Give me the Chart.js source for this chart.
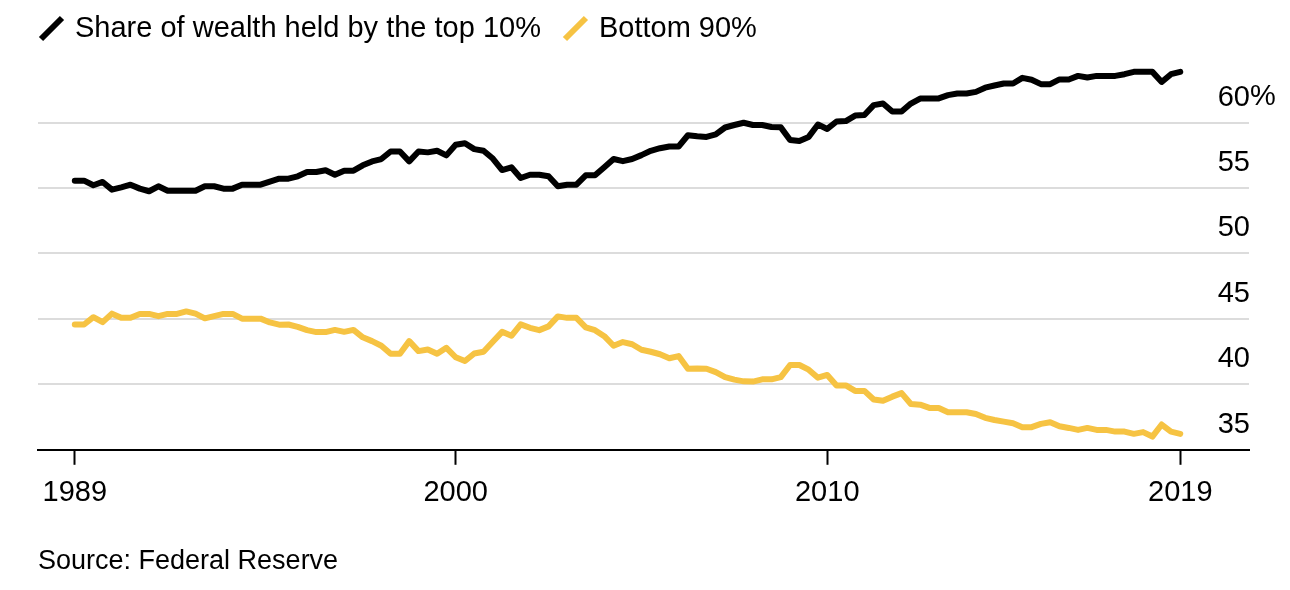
<!DOCTYPE html>
<html>
<head>
<meta charset="utf-8">
<script src="https://cdn.jsdelivr.net/npm/chart.js@4.4.1/dist/chart.umd.min.js"></script>
<style>
  html, body { margin: 0; padding: 0; background: #fff; }
  #wrap { width: 1290px; height: 590px; }
</style>
</head>
<body>
<div id="wrap"><canvas id="wealthChart"></canvas></div>
<script>
  // Quarterly share of household wealth, 1989 Q3 to 2019 Q2
  const top10 = [
    55.56, 55.56, 55.21, 55.46, 54.87, 55.05, 55.25, 54.95, 54.75, 55.13,
    54.79, 54.79, 54.79, 54.79, 55.13, 55.13, 54.95, 54.95, 55.25, 55.25,
    55.25, 55.49, 55.71, 55.71, 55.89, 56.22, 56.22, 56.35, 56.01, 56.32,
    56.32, 56.73, 57.03, 57.21, 57.79, 57.79, 57.03, 57.79, 57.72, 57.84,
    57.49, 58.30, 58.42, 57.97, 57.84, 57.25, 56.37, 56.58, 55.76, 56.01,
    56.01, 55.89, 55.13, 55.25, 55.25, 55.97, 55.97, 56.58, 57.21, 57.05,
    57.21, 57.51, 57.84, 58.04, 58.17, 58.17, 59.03, 58.95, 58.90, 59.09,
    59.62, 59.81, 59.98, 59.81, 59.81, 59.66, 59.63, 58.67, 58.59, 58.90,
    59.85, 59.51, 60.08, 60.11, 60.53, 60.57, 61.33, 61.45, 60.84, 60.84,
    61.45, 61.83, 61.84, 61.84, 62.09, 62.22, 62.22, 62.34, 62.66, 62.83,
    62.98, 62.98, 63.41, 63.27, 62.93, 62.93, 63.29, 63.29, 63.56, 63.44,
    63.56, 63.56, 63.56, 63.69, 63.87, 63.87, 63.87, 63.10, 63.69, 63.87
  ];
  const bottom90 = [
    44.57, 44.57, 45.13, 44.75, 45.40, 45.08, 45.08, 45.38, 45.38, 45.21,
    45.38, 45.38, 45.57, 45.40, 45.04, 45.21, 45.38, 45.38, 45.02, 45.02,
    45.02, 44.73, 44.56, 44.57, 44.39, 44.14, 43.99, 43.99, 44.16, 44.01,
    44.16, 43.59, 43.30, 42.95, 42.34, 42.34, 43.30, 42.54, 42.66, 42.34,
    42.79, 42.07, 41.78, 42.36, 42.49, 43.25, 44.01, 43.71, 44.58, 44.32,
    44.14, 44.43, 45.19, 45.08, 45.08, 44.35, 44.14, 43.68, 42.95, 43.23,
    43.06, 42.64, 42.49, 42.30, 41.99, 42.16, 41.19, 41.21, 41.19, 40.93,
    40.55, 40.36, 40.23, 40.21, 40.38, 40.38, 40.55, 41.48, 41.48, 41.12,
    40.51, 40.72, 39.92, 39.92, 39.50, 39.50, 38.84, 38.74, 39.06, 39.33,
    38.50, 38.45, 38.20, 38.20, 37.87, 37.87, 37.87, 37.74, 37.44, 37.28,
    37.15, 37.03, 36.73, 36.73, 36.98, 37.11, 36.80, 36.67, 36.52, 36.67,
    36.52, 36.52, 36.39, 36.39, 36.22, 36.35, 36.01, 36.93, 36.39, 36.22
  ];
  const seriesNames = ['Share of wealth held by the top 10%', 'Bottom 90%'];

  // x position of each quarter = its end date as a decimal year
  const quarterEnds = [];
  for (let i = 0; i < top10.length; i++) quarterEnds.push(1989.75 + i * 0.25);

  const xTickValues = [1989.75, 2000, 2010, 2019.5];
  const xTickLabels = ['1989', '2000', '2010', '2019'];
  const yTickValues = [35, 40, 45, 50, 55, 60];

  const FONT = 'Liberation Sans, Arial, sans-serif';
  const BLACK = '#000000';
  const YELLOW = '#f6c343';

  // legend drawn by hand: slash icon + label, at the top left
  const slashLegend = {
    id: 'slashLegend',
    afterDraw(chart) {
      const ctx = chart.ctx;
      ctx.save();
      ctx.font = '29px ' + FONT;
      ctx.textBaseline = 'middle';
      let x = 41;
      const y = 29;
      chart.data.datasets.forEach(ds => {
        ctx.strokeStyle = ds.borderColor;
        ctx.lineWidth = 6;
        ctx.lineCap = 'butt';
        ctx.beginPath();
        ctx.moveTo(x, y + 10);
        ctx.lineTo(x + 21, y - 11);
        ctx.stroke();
        ctx.fillStyle = '#000';
        ctx.fillText(ds.label, x + 34, y);
        x += 34 + ctx.measureText(ds.label).width + 24;
      });
      ctx.restore();
    }
  };

  // the "%" hangs to the right of the top tick label
  const percentSign = {
    id: 'percentSign',
    afterDraw(chart) {
      const s = chart.scales.y;
      const ctx = chart.ctx;
      ctx.save();
      ctx.font = '29px ' + FONT;
      ctx.fillStyle = '#000';
      ctx.textBaseline = 'middle';
      ctx.fillText('%', s.left + 1, s.getPixelForValue(60) - 26);
      ctx.restore();
    }
  };

  const ctx = document.getElementById('wealthChart').getContext('2d');
  new Chart(ctx, {
    type: 'line',
    data: {
      datasets: [
        {
          label: seriesNames[0],
          data: top10.map((v, i) => ({ x: quarterEnds[i], y: v })),
          borderColor: BLACK,
          borderWidth: 6,
          pointRadius: 0,
          tension: 0,
          borderJoinStyle: 'round',
          borderCapStyle: 'round'
        },
        {
          label: seriesNames[1],
          data: bottom90.map((v, i) => ({ x: quarterEnds[i], y: v })),
          borderColor: YELLOW,
          borderWidth: 6,
          pointRadius: 0,
          tension: 0,
          borderJoinStyle: 'round',
          borderCapStyle: 'round'
        }
      ]
    },
    options: {
      responsive: true,
      maintainAspectRatio: false,
      animation: false,
      layout: { padding: { left: 38, right: 39, top: 64, bottom: 12 } },
      plugins: {
        legend: { display: false },
        tooltip: { enabled: false },
        title: {
          display: true,
          text: 'Source: Federal Reserve',
          position: 'bottom',
          align: 'start',
          color: '#000',
          font: { family: FONT, size: 27, weight: 'normal' },
          padding: { top: 24, bottom: 0 }
        }
      },
      scales: {
        x: {
          type: 'linear',
          min: 1988.76,
          max: 2021.35,
          afterBuildTicks: scale => { scale.ticks = xTickValues.map(v => ({ value: v })); },
          grid: { drawOnChartArea: false, drawTicks: true, tickLength: 15, tickColor: '#000', tickWidth: 2 },
          border: { display: true, color: '#000', width: 2 },
          ticks: {
            autoSkip: false,
            maxRotation: 0,
            padding: 11,
            color: '#000',
            font: { family: FONT, size: 29 },
            callback: (v, i) => xTickLabels[i]
          }
        },
        y: {
          position: 'right',
          min: 35,
          max: 64.47,
          afterBuildTicks: scale => { scale.ticks = yTickValues.map(v => ({ value: v })); },
          grid: {
            drawTicks: false,
            lineWidth: 2,
            color: c => (c.tick && c.tick.value === 35 ? 'rgba(0,0,0,0)' : '#dcdcdc')
          },
          border: { display: false },
          ticks: {
            mirror: true,
            padding: 1,
            labelOffset: -25,
            color: '#000',
            font: { family: FONT, size: 29 },
            callback: v => String(v)
          }
        }
      }
    },
    plugins: [slashLegend, percentSign]
  });
</script>
</body>
</html>
